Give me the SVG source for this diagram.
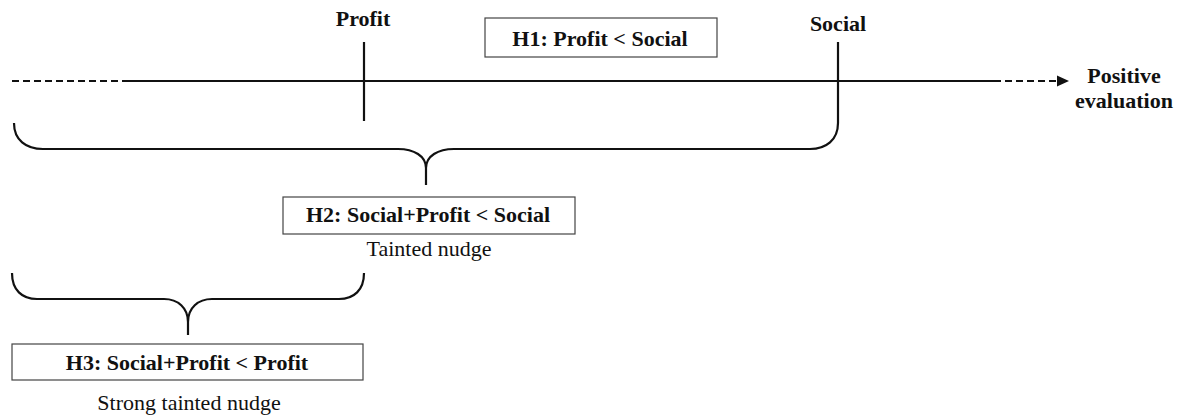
<svg xmlns="http://www.w3.org/2000/svg" width="1178" height="418" viewBox="0 0 1178 418">
  <style>
    .ln { fill: none; stroke: #111; stroke-width: 2.2; }
    .dash { fill: none; stroke: #111; stroke-width: 2.2; stroke-dasharray: 7 4; }
    .box { fill: #fff; stroke: #444; stroke-width: 1.2; }
    .b { font-family: "Liberation Serif", "Times New Roman", serif; font-weight: bold; font-size: 22px; fill: #111; text-anchor: middle; }
    .r { font-family: "Liberation Serif", "Times New Roman", serif; font-size: 22px; fill: #111; text-anchor: middle; }
  </style>
  <defs>
    <marker id="arrow" markerUnits="userSpaceOnUse" markerWidth="14" markerHeight="12" refX="12" refY="6" orient="auto">
      <path d="M0,0.5 L12,6 L0,11.5 Z" fill="#111"/>
    </marker>
  </defs>

  <g id="connectors">
    <!-- evaluation axis -->
    <line class="dash" x1="12" y1="81" x2="123" y2="81"/>
    <line class="ln" x1="123" y1="81" x2="994" y2="81"/>
    <line class="dash" x1="994" y1="81" x2="1069" y2="81" marker-end="url(#arrow)"/>
    <!-- ticks -->
    <line class="ln" x1="364" y1="42" x2="364" y2="121"/>
    <line class="ln" x1="838" y1="42" x2="838" y2="123"/>
    <!-- large brace: Profit..Social range -->
    <path class="ln" d="M14,123 C14,140 26,149 43,149 L398,149 C414,149 426,156 426,168 L426,185 M426,168 C426,156 438,149 454,149 L810,149 C826,149 838,140 838,123"/>
    <!-- small brace: left end..Profit range -->
    <path class="ln" d="M12,273 C12,290 22,299 37,299 L164,299 C178,299 188,308 188,322 L188,335 M188,322 C188,308 198,299 212,299 L339,299 C354,299 364,290 364,273"/>
  </g>

  <g id="label-profit">
    <text class="b" x="363" y="26">Profit</text>
  </g>
  <g id="label-social">
    <text class="b" x="838" y="31">Social</text>
  </g>
  <g id="label-positive">
    <text class="b" x="1124" y="83">Positive</text>
    <text class="b" x="1124" y="108">evaluation</text>
  </g>

  <g id="h1">
    <rect class="box" x="485" y="18" width="232" height="39"/>
    <text class="b" x="600" y="46">H1: Profit &lt; Social</text>
  </g>

  <g id="h2">
    <rect class="box" x="283" y="197" width="292" height="37"/>
    <text class="b" x="428" y="222">H2: Social+Profit &lt; Social</text>
    <text class="r" x="429" y="256">Tainted nudge</text>
  </g>

  <g id="h3">
    <rect class="box" x="12" y="344" width="351" height="36"/>
    <text class="b" x="187" y="370">H3: Social+Profit &lt; Profit</text>
    <text class="r" x="189" y="410">Strong tainted nudge</text>
  </g>
</svg>
